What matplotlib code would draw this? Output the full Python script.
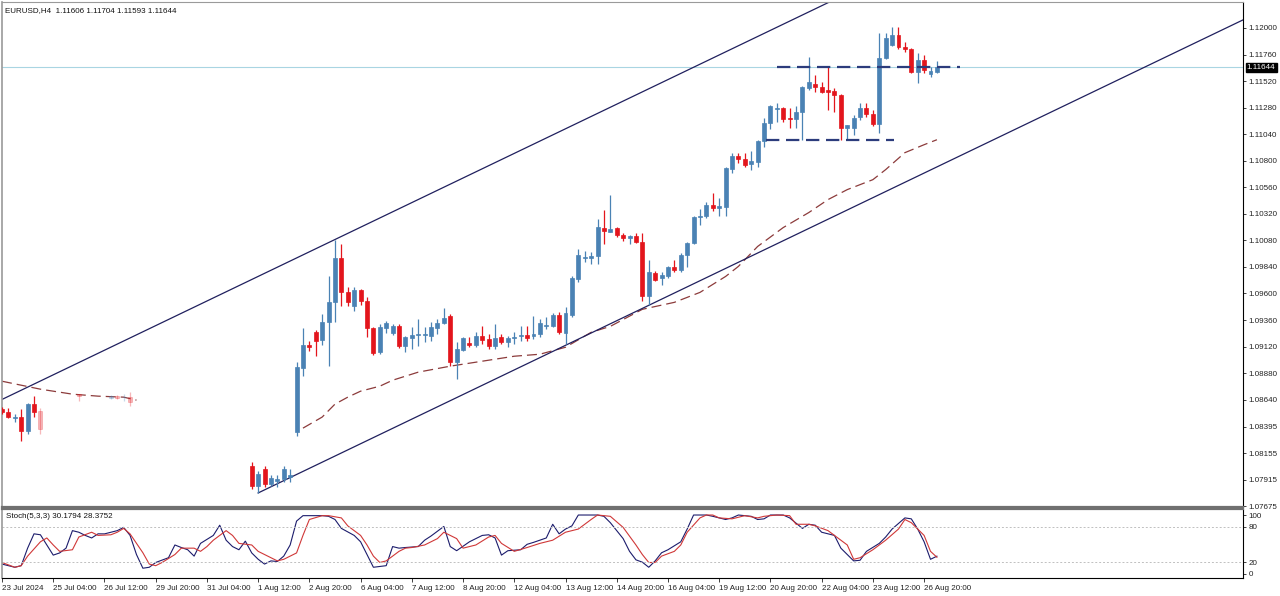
import matplotlib.pyplot as plt
import numpy as np

plt.rcParams['font.family'] = ['Liberation Sans', 'DejaVu Sans']

N = None

# H4 bars, index 0 = 23 Jul 2024 20:00 (bars in the washed-out area are None)
opens = ([1.08555, 1.08528, 1.08474, 1.08483, 1.08356, 1.08600, 1.08537] + [N] * 5 + [1.08690] + [N] * 4 +
         [1.08654, 1.08672, 1.08663, 1.08663] + [N] * 18 +
         [1.08041, 1.07860, 1.08014, 1.07878, 1.07905, 1.07923, 1.07941,
          1.08347, 1.08925, 1.09132, 1.09249, 1.09177, 1.09340, 1.09520, 1.09917, 1.09610, 1.09484,
          1.09628, 1.09529, 1.09285, 1.09069, 1.09285, 1.09240, 1.09303, 1.09123, 1.09195, 1.09227,
          1.09227, 1.09213, 1.09285, 1.09331, 1.09394, 1.08979, 1.09087, 1.09150, 1.09132, 1.09213,
          1.09186, 1.09123, 1.09204, 1.09159, 1.09200, 1.09213, 1.09222, 1.09213, 1.09231, 1.09308,
          1.09303, 1.09403, 1.09240, 1.09403, 1.09727, 1.09922, 1.09917, 1.09935, 1.10196, 1.10160,
          1.10196, 1.10133, 1.10106, 1.10124, 1.10070, 1.09574, 1.09782, 1.09736, 1.09754, 1.09836,
          1.09809, 1.09944, 1.10052, 1.10287, 1.10305, 1.10404, 1.10377, 1.10386, 1.10729, 1.10846,
          1.10819, 1.10774, 1.10792, 1.10981, 1.11144, 1.11270, 1.11279, 1.11189, 1.11180, 1.11243,
          1.11459, 1.11495, 1.11468, 1.11441, 1.11432, 1.11396, 1.11098, 1.11098, 1.11198, 1.11279,
          1.11225, 1.11135, 1.11730, 1.11847, 1.11937, 1.11829, 1.11811, 1.11604, 1.11712, 1.11586,
          1.11606])
highs = ([1.08573, 1.08564, 1.08510, 1.08555, 1.08609, 1.08672, 1.08564] + [N] * 5 + [1.08690] + [N] * 4 +
         [1.08681, 1.08681, 1.08690, 1.08708] + [N] * 18 +
         [1.08077, 1.07996, 1.08041, 1.07959, 1.07959, 1.08041, 1.08014,
          1.08979, 1.09285, 1.09168, 1.09267, 1.09412, 1.09754, 1.10088, 1.10043, 1.09655, 1.09655,
          1.09637, 1.09565, 1.09294, 1.09321, 1.09349, 1.09321, 1.09321, 1.09213, 1.09294, 1.09367,
          1.09294, 1.09340, 1.09367, 1.09466, 1.09412, 1.09159, 1.09204, 1.09204, 1.09249, 1.09303,
          1.09231, 1.09321, 1.09231, 1.09213, 1.09249, 1.09303, 1.09303, 1.09394, 1.09367, 1.09385,
          1.09421, 1.09430, 1.09475, 1.09754, 1.09998, 1.09980, 1.09971, 1.10269, 1.10359, 1.10494,
          1.10205, 1.10151, 1.10133, 1.10151, 1.10151, 1.09899, 1.09800, 1.09791, 1.09845, 1.09899,
          1.09962, 1.10061, 1.10305, 1.10368, 1.10431, 1.10512, 1.10467, 1.10747, 1.10873, 1.10873,
          1.10873, 1.10891, 1.10990, 1.11189, 1.11306, 1.11324, 1.11288, 1.11279, 1.11297, 1.11477,
          1.11739, 1.11576, 1.11513, 1.11649, 1.11459, 1.11405, 1.11125, 1.11216, 1.11324, 1.11324,
          1.11261, 1.11955, 1.11955, 1.12009, 1.12009, 1.11874, 1.11820, 1.11775, 1.11757, 1.11649,
          1.11704])
lows = ([1.08510, 1.08474, 1.08438, 1.08266, 1.08329, 1.08483, 1.08329] + [N] * 5 + [1.08627] + [N] * 4 +
        [1.08645, 1.08645, 1.08627, 1.08582] + [N] * 18 +
        [1.07833, 1.07797, 1.07851, 1.07860, 1.07851, 1.07896, 1.07896,
         1.08311, 1.08852, 1.09078, 1.09033, 1.09132, 1.08943, 1.09340, 1.09484, 1.09484, 1.09439,
         1.09493, 1.09204, 1.09042, 1.09051, 1.09240, 1.09222, 1.09105, 1.09069, 1.09096, 1.09123,
         1.09159, 1.09168, 1.09231, 1.09321, 1.08943, 1.08825, 1.09078, 1.09114, 1.09114, 1.09141,
         1.09096, 1.09096, 1.09141, 1.09114, 1.09141, 1.09168, 1.09168, 1.09186, 1.09204, 1.09276,
         1.09294, 1.09231, 1.09141, 1.09385, 1.09700, 1.09881, 1.09863, 1.09863, 1.10043, 1.10160,
         1.10115, 1.10079, 1.10043, 1.10052, 1.09529, 1.09493, 1.09709, 1.09673, 1.09736, 1.09791,
         1.09791, 1.09836, 1.10043, 1.10223, 1.10278, 1.10350, 1.10305, 1.10305, 1.10693, 1.10783,
         1.10747, 1.10720, 1.10747, 1.10927, 1.11089, 1.11153, 1.11153, 1.11098, 1.11098, 1.10990,
         1.11441, 1.11423, 1.11414, 1.11261, 1.11243, 1.10990, 1.10990, 1.11035, 1.11171, 1.11198,
         1.11116, 1.11053, 1.11721, 1.11838, 1.11811, 1.11784, 1.11595, 1.11504, 1.11595, 1.11558,
         1.11593])
closes = ([1.08528, 1.08483, 1.08483, 1.08356, 1.08600, 1.08528, 1.08374] + [N] * 5 + [1.08672] + [N] * 4 +
          [1.08672, 1.08654, 1.08667, 1.08618] + [N] * 18 +
          [1.07860, 1.07968, 1.07878, 1.07932, 1.07923, 1.08014, 1.07959,
           1.08934, 1.09132, 1.09114, 1.09168, 1.09340, 1.09520, 1.09917, 1.09610, 1.09520, 1.09628,
           1.09529, 1.09285, 1.09060, 1.09294, 1.09331, 1.09303, 1.09123, 1.09204, 1.09222, 1.09231,
           1.09231, 1.09294, 1.09331, 1.09376, 1.08979, 1.09096, 1.09195, 1.09132, 1.09213, 1.09177,
           1.09123, 1.09195, 1.09159, 1.09195, 1.09204, 1.09222, 1.09195, 1.09231, 1.09331, 1.09312,
           1.09403, 1.09249, 1.09421, 1.09736, 1.09944, 1.09926, 1.09935, 1.10205, 1.10169, 1.10187,
           1.10133, 1.10106, 1.10124, 1.10061, 1.09574, 1.09791, 1.09718, 1.09763, 1.09836, 1.09809,
           1.09944, 1.10052, 1.10296, 1.10305, 1.10404, 1.10377, 1.10395, 1.10738, 1.10846, 1.10819,
           1.10765, 1.10801, 1.10981, 1.11144, 1.11297, 1.11279, 1.11180, 1.11180, 1.11243, 1.11468,
           1.11513, 1.11468, 1.11423, 1.11423, 1.11396, 1.11098, 1.11125, 1.11189, 1.11279, 1.11225,
           1.11135, 1.11730, 1.11910, 1.11937, 1.11829, 1.11811, 1.11604, 1.11712, 1.11622, 1.11613,
           1.11644])
faded_bars = [6, 12, 17, 18, 19, 20]

# dashed moving average (two visible pieces)
ma_left_idx = [0, 3, 6, 11, 15, 19, 21]
ma_left = [1.08807, 1.08771, 1.08735, 1.08690, 1.08672, 1.08663, 1.08636]
ma_idx = [47, 50, 52, 54, 56, 59, 61, 65, 70, 75, 80, 84, 88, 92, 95, 100, 105, 109, 113, 115,
          118, 122, 126, 129, 132, 136, 138, 141, 144, 146]
ma_val = [1.08383, 1.08483, 1.08600, 1.08663, 1.08717, 1.08762, 1.08816, 1.08889, 1.08943, 1.08988,
          1.09033, 1.09051, 1.09114, 1.09249, 1.09303, 1.09457, 1.09520, 1.09610, 1.09754, 1.09845,
          1.10025, 1.10196, 1.10332, 1.10449, 1.10539, 1.10629, 1.10720, 1.10873, 1.10945, 1.10990]

# channel and range levels
chan_lo = [(40, 1.07797), (101, 1.09493)]
chan_hi_anchor = (52, 1.10088)
res_level, res_from, res_to = 1.11649, 121, 149.6
sup_level, sup_from, sup_to = 1.10990, 119.3, 139.3
bid = 1.11644

# Stochastic(5,3,3)
k_idx = [0, 1, 2, 3, 4, 5, 6, 7, 8, 9, 10, 11, 12, 13, 14, 15, 16, 18, 19, 20, 21, 22, 23, 24, 26, 27,
         28, 29, 30, 31, 33, 34, 35, 36, 37, 38, 39, 40, 41, 42, 43, 44, 45, 46, 47, 50, 51, 52, 53, 55,
         56, 57, 58, 60, 61, 62, 63, 65, 66, 67, 69, 70, 71, 73, 75, 76, 77, 78, 79, 81, 82, 83, 85, 86,
         87, 88, 89, 90, 93, 94, 95, 97, 98, 99, 100, 101, 102, 103, 104, 106, 107, 108, 110, 111, 113,
         114, 115, 117, 118, 119, 120, 122, 123, 125, 126, 127, 128, 130, 131, 133, 134, 135, 137, 138,
         139, 141, 142, 143, 144, 145, 146]
k_val = [16.8, 14.1, 11.4, 14.1, 43.8, 68.1, 66.5, 49.2, 32, 35.7, 43.8, 73.5, 70.8, 65.4, 61.1, 68.1,
         68, 73.5, 79, 65.4, 33, 9.8, 11.4, 19.5, 27.6, 49.2, 44.9, 41.1, 30.3, 51.9, 65.4, 82.7, 57.3,
         46.5, 41.1, 55.7, 35.7, 25, 16.8, 22.2, 21.2, 30.3, 49.2, 89.7, 98.9, 98.9, 97.8, 92.4, 77.3,
         65.4, 54.6, 33, 11.4, 14.1, 46.5, 43.8, 44.9, 46.5, 57.3, 64.4, 80.6, 46.5, 39.5, 54.6, 65.4,
         66.5, 61.1, 32, 39.5, 41.1, 50.3, 53.6, 61.1, 84.3, 68.1, 76.2, 81.6, 100, 100, 97.8, 87, 60,
         38.4, 24, 20, 11.4, 22.2, 36, 41.1, 54.6, 76.2, 100, 100, 97.8, 92.4, 95.1, 100, 97.8, 92.4,
         93.5, 100, 100, 95.1, 77.3, 84.3, 82.7, 70.8, 65.4, 43.8, 22.2, 23.3, 38.4, 51.9, 62.7, 76.2,
         95.1, 93.5, 76.2, 54.6, 24.9, 30.18]
d_idx = [0, 2, 3, 4, 6, 7, 8, 9, 11, 12, 14, 15, 17, 18, 19, 20, 21, 22, 23, 24, 25, 27, 28, 30, 31,
         32, 33, 35, 36, 37, 39, 40, 42, 43, 44, 46, 47, 48, 50, 51, 53, 54, 56, 57, 58, 59, 60, 62, 63,
         64, 66, 68, 69, 71, 72, 74, 76, 77, 78, 80, 82, 84, 86, 88, 90, 92, 93, 95, 97, 99, 100, 101,
         102, 103, 105, 106, 107, 109, 110, 111, 112, 114, 116, 118, 119, 121, 123, 124, 126, 127, 129,
         130, 132, 133, 134, 136, 138, 140, 141, 142, 144, 145, 146]
d_val = [19.5, 11.4, 14.1, 30.3, 54.6, 61.1, 49.2, 38.4, 41.1, 62.7, 70.8, 65.4, 66.5, 70.8, 77.3, 68,
         52, 36, 16.8, 14.1, 19.5, 33, 43.8, 43.8, 38.4, 46.5, 57.3, 73.5, 65.4, 51.9, 49.2, 38.4, 27.6,
         22.2, 24.9, 35.7, 65.4, 92.4, 98.9, 98.9, 95.1, 81.6, 65.4, 49.2, 30.3, 19.5, 22.2, 38.4, 43.8,
         44.9, 49.2, 60, 70.8, 60, 43.8, 49.2, 62.7, 65.4, 51.9, 38.4, 44.9, 51.9, 57.3, 70.8, 76.2, 92.4,
         100, 97.8, 79, 49.2, 33, 19.5, 19.5, 30.3, 38.4, 49.2, 70.8, 95.1, 100, 100, 95.1, 93.5, 98.9,
         95.1, 97.8, 100, 98.9, 84.3, 84.3, 81.6, 73.5, 65.4, 49.2, 24.9, 27.6, 41.1, 57.3, 76.2, 92.4,
         87, 65.4, 38.4, 28.38]

xtick_pos = list(range(0, 145, 8))
xtick_lbl = ['23 Jul 2024', '25 Jul 04:00', '26 Jul 12:00', '29 Jul 20:00', '31 Jul 04:00',
             '1 Aug 12:00', '2 Aug 20:00', '6 Aug 04:00', '7 Aug 12:00', '8 Aug 20:00',
             '12 Aug 04:00', '13 Aug 12:00', '14 Aug 20:00', '16 Aug 04:00', '19 Aug 12:00',
             '20 Aug 20:00', '22 Aug 04:00', '23 Aug 12:00', '26 Aug 20:00']
ytick_pos = [1.12000, 1.11760, 1.11520, 1.11280, 1.11040, 1.10800, 1.10560, 1.10320, 1.10080,
             1.09840, 1.09600, 1.09360, 1.09120, 1.08880, 1.08640, 1.08395, 1.08155, 1.07915, 1.07675]

BLUE = '#4a82b4'
RED = '#e3151c'
NAVY = '#20205e'
FS = 5.8

fig = plt.figure(figsize=(12.8, 5.96), dpi=100)
ax = fig.add_axes([2 / 1280, 89 / 596, 1241 / 1280, 505 / 596])
ax2 = fig.add_axes([2 / 1280, 18 / 596, 1241 / 1280, 69 / 596], sharex=ax)

o = np.array(opens, dtype=float)
h = np.array(highs, dtype=float)
l = np.array(lows, dtype=float)
c = np.array(closes, dtype=float)
idx = np.arange(len(o))
ok = ~np.isnan(o)
faded = np.isin(idx, faded_bars)

for mask, col in [(ok & (c >= o), BLUE), (ok & (c < o), RED)]:
    for alpha, m in [(1.0, mask & ~faded), (0.3, mask & faded)]:
        ax.vlines(idx[m], l[m], h[m], color=col, lw=0.9, alpha=alpha, zorder=3)
        ax.bar(idx[m], np.abs(c - o)[m], bottom=np.minimum(o, c)[m], width=0.62,
               color=col, edgecolor=col, lw=0.5, alpha=alpha, zorder=4)

ax.axhline(bid, color='#a9d5e2', lw=0.8, zorder=1)

ax.plot(ma_left_idx, ma_left, color='#8c3b3b', lw=0.9, ls=(0, (8, 4)), zorder=2)
ax.plot(ma_idx, ma_val, color='#8c3b3b', lw=0.9, ls=(0, (8, 4)), zorder=2)

slope = (chan_lo[1][1] - chan_lo[0][1]) / (chan_lo[1][0] - chan_lo[0][0])
xs = np.array([chan_lo[0][0], 210])
ax.plot(xs, chan_lo[0][1] + slope * (xs - chan_lo[0][0]), color=NAVY, lw=0.9, zorder=2)
xs = np.array([-5, 210])
ax.plot(xs, chan_hi_anchor[1] + slope * (xs - chan_hi_anchor[0]), color=NAVY, lw=0.9, zorder=2)

ax.hlines(res_level, res_from, res_to, colors='#2c3c7c', lw=1.6, linestyles=(0, (6, 3)), zorder=5)
ax.hlines(sup_level, sup_from, sup_to, colors='#2c3c7c', lw=1.6, linestyles=(0, (6, 3)), zorder=5)

ax.set_xlim(0.15, 193.8)
ax.set_ylim(1.07670, 1.12235)
ax.yaxis.tick_right()
ax.set_yticks(ytick_pos)
ax.set_yticklabels(['%.5f' % v for v in ytick_pos])
ax.tick_params(axis='y', labelsize=FS, length=2, width=0.6, pad=2, colors='#222222')
ax.tick_params(axis='x', bottom=False, labelbottom=False)
ax.text(1.003, bid, '%.5f' % bid, transform=ax.get_yaxis_transform(), fontsize=FS, color='white',
        va='center', ha='left', bbox=dict(boxstyle='square,pad=0.15', fc='black', ec='black'))

# stochastic panel
ax2.plot(k_idx, k_val, color='#1c1c6c', lw=0.8)
ax2.plot(d_idx, d_val, color='#d03838', lw=0.8)
for lv in (80, 20):
    ax2.axhline(lv, color='#c0c0c0', lw=0.7, ls=(0, (2, 2)))
ax2.set_ylim(-6.8, 110.2)
ax2.yaxis.tick_right()
ax2.set_yticks([100, 80, 20, 0])
ax2.set_yticklabels(['100', '80', '20', '0'])
ax2.tick_params(axis='y', labelsize=FS, length=2, width=0.6, pad=2, colors='#222222')
ax2.set_xticks(xtick_pos)
ax2.set_xticklabels(xtick_lbl, ha='left')
ax2.tick_params(axis='x', labelsize=FS, length=3, width=0.6, pad=2, colors='#222222')
ax2.text(4 / 1241, 0.89, 'Stoch(5,3,3) 30.1794 28.3752', transform=ax2.transAxes, fontsize=FS,
         va='center', ha='left', color='#111111')

for a in (ax, ax2):
    a.spines['right'].set_color('black')
    a.spines['right'].set_linewidth(0.8)
    a.spines['left'].set_color('#9a9a9a')
    a.spines['left'].set_linewidth(1.2)
ax.spines['top'].set_color('#9a9a9a')
ax.spines['bottom'].set_color('#707070')
ax.spines['bottom'].set_linewidth(1.6)
ax2.spines['top'].set_color('#707070')
ax2.spines['top'].set_linewidth(1.6)
ax2.spines['bottom'].set_color('black')
ax2.spines['bottom'].set_linewidth(0.8)

fig.text(5 / 1280, 1 - 11 / 596, 'EURUSD,H4  1.11606 1.11704 1.11593 1.11644', fontsize=FS,
         va='center', ha='left', color='#111111')

fig.savefig('out.png', dpi=100, facecolor='white')
